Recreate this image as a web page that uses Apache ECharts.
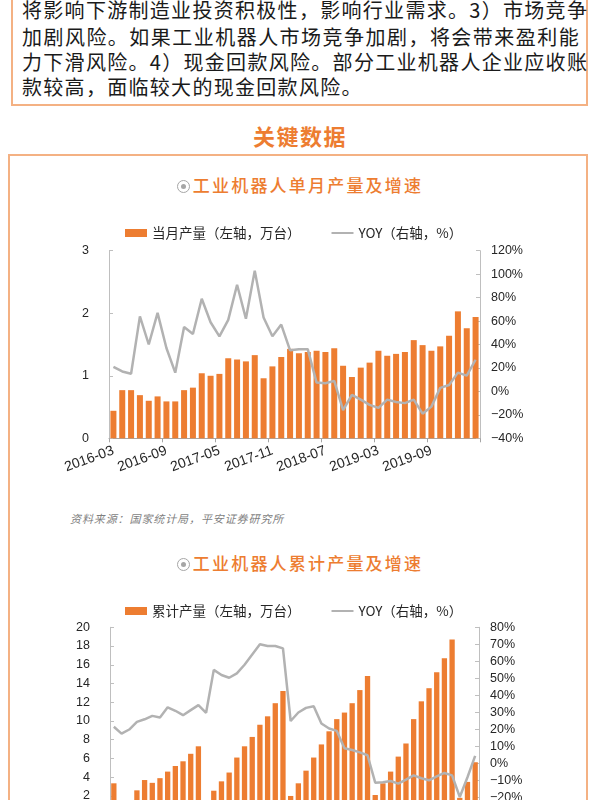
<!DOCTYPE html>
<html>
<head>
<meta charset="utf-8">
<script src="https://cdn.jsdelivr.net/npm/echarts@6/dist/echarts.min.js"></script>
<style>
html,body{margin:0;padding:0;width:600px;height:800px;overflow:hidden;background:#fff;}
body{position:relative;font-family:"Noto Sans CJK SC","Noto Sans",sans-serif;}
.abs{position:absolute;}
.tline{position:absolute;left:22px;width:558px;font-size:20px;line-height:25px;color:#1a1a1a;letter-spacing:1.3px;white-space:nowrap;}
.just{text-align:justify;text-align-last:justify;}
.ctitle{position:absolute;left:0;width:600px;text-align:center;font-size:17px;line-height:22px;color:#ED7D31;font-weight:500;letter-spacing:2.2px;}
.ico{display:inline-block;width:11px;height:11px;border:1.5px solid #A6A6A6;border-radius:50%;position:relative;vertical-align:-1px;margin-right:3px;}
.ico:after{content:"";position:absolute;left:3px;top:3px;width:5px;height:5px;border-radius:50%;background:#A6A6A6;}
</style>
</head>
<body>
<div class="abs" style="left:11px;top:-20px;width:573px;height:122px;border:2px solid #F4B183;"></div>
<div class="tline just" style="top:-3px;">将影响下游制造业投资积极性，影响行业需求。3）市场竞争</div>
<div class="tline just" style="top:24px;">加剧风险。如果工业机器人市场竞争加剧，将会带来盈利能</div>
<div class="tline just" style="top:49px;">力下滑风险。4）现金回款风险。部分工业机器人企业应收账</div>
<div class="tline" style="top:74px;">款较高，面临较大的现金回款风险。</div>

<div class="abs" style="left:0;top:121px;width:600px;text-align:center;font-size:22px;line-height:28px;font-weight:bold;color:#ED7D31;letter-spacing:1.5px;">关键数据</div>

<div class="abs" style="left:8px;top:154px;width:576px;height:800px;border:2px solid #F4B183;"></div>

<div class="ctitle" style="top:174px;"><span class="ico"></span>工业机器人单月产量及增速</div>
<div id="c1" class="abs" style="left:0;top:200px;width:600px;height:300px;"></div>
<div class="abs" style="left:70px;top:510px;font-size:11px;line-height:16px;color:#7F7F7F;font-style:italic;letter-spacing:0.9px;">资料来源：国家统计局，平安证券研究所</div>

<div class="ctitle" style="top:552px;"><span class="ico"></span>工业机器人累计产量及增速</div>
<div id="c2" class="abs" style="left:0;top:580px;width:600px;height:320px;"></div>

<script>
// ---- Chart 1 data: monthly output (万台) and YoY (%) ----
const monthCats = ['2016-03','2016-04','2016-05','2016-06','2016-07','2016-08','2016-09','2016-10','2016-11','2016-12',
  '2017-03','2017-04','2017-05','2017-06','2017-07','2017-08','2017-09','2017-10','2017-11','2017-12',
  '2018-03','2018-04','2018-05','2018-06','2018-07','2018-08','2018-09','2018-10','2018-11','2018-12',
  '2019-03','2019-04','2019-05','2019-06','2019-07','2019-08','2019-09','2019-10','2019-11','2019-12',
  '2020-03','2020-04'];
const monthlyOutput = [0.44,0.77,0.77,0.69,0.60,0.67,0.59,0.59,0.77,0.81,
  1.04,1.00,1.03,1.28,1.26,1.23,1.33,0.96,1.15,1.30,
  1.43,1.36,1.38,1.40,1.38,1.44,1.16,0.98,1.13,1.21,
  1.40,1.32,1.35,1.38,1.57,1.49,1.40,1.47,1.64,2.03,
  1.76,1.94];
const monthlyYoy = [21,17,15,64,40,67,37,16,55,49,
  79,59,47,61,91,62,103,63,47,57,
  35,36,36,7.5,7,9,-16,-3,-7,-11.5,
  -14,-7,-9,-10,-7,-19,-13,3,5.5,16,
  13.5,27];
const monthlyBarName = '当月产量（左轴，万台）';
const yoyName = 'YOY（右轴，%）';

// ---- Chart 2 data: cumulative output (万台) and YoY (%) ----
const cumCats = ['2015-12','2016-02','2016-03','2016-04','2016-05','2016-06','2016-07','2016-08','2016-09','2016-10','2016-11','2016-12',
  '2017-02','2017-03','2017-04','2017-05','2017-06','2017-07','2017-08','2017-09','2017-10','2017-11','2017-12',
  '2018-02','2018-03','2018-04','2018-05','2018-06','2018-07','2018-08','2018-09','2018-10','2018-11','2018-12',
  '2019-02','2019-03','2019-04','2019-05','2019-06','2019-07','2019-08','2019-09','2019-10','2019-11','2019-12',
  '2020-02','2020-03','2020-04'];
const cumOutput = [3.35,0.9,1.4,2.6,3.7,3.4,3.9,4.6,5.2,5.7,6.5,7.3,
  1.5,2.56,3.56,4.5,6.1,7.3,8.3,9.6,10.5,11.9,13.2,
  2.0,3.35,4.7,6.1,7.5,8.9,10.2,10.9,11.9,13.3,14.8,
  2.1,3.35,4.6,6.2,7.6,10.2,12.1,13.5,15.2,16.7,18.7,
  1.8,3.5,5.6];
const cumYoy = [21.6,17.6,20,24.5,26,28,27,33,31,28.4,31.4,34.3,
  29.8,55,52,50.4,53,58,64,70,69,69,67.6,
  25,30,32.7,33.7,23.5,20.6,19.2,9,8,6.6,4.9,
  -11.2,-11,-10.2,-11.8,-9.4,-6.9,-8.6,-9.8,-7.5,-5.5,-6.9,
  -19.6,-8,4.5];
const cumBarName = '累计产量（左轴，万台）';

const ORANGE = '#ED7D31', GRAY = '#B2B2B2', AX = '#BFBFBF', TXT = '#262626';
const pct = v => (v < 0 ? '−' + (-v) : v) + '%';

function build(cats, bars, yoy, barName, cfg) {
  return {
    animation: false,
    legend: {
      left: 125, top: cfg.legendTop, padding: 0, itemWidth: 22, itemHeight: 8, itemGap: 30,
      textStyle: {fontSize: 13.5, lineHeight: 18, color: TXT, fontFamily: 'Noto Sans CJK SC'},
      data: [
        {name: barName, icon: 'rect'},
        {name: yoyName, itemStyle: {color: 'rgba(0,0,0,0)', borderColor: 'rgba(0,0,0,0)', borderWidth: 0, opacity: 0}}
      ]
    },
    grid: {left: cfg.left, right: cfg.right, top: cfg.top, height: cfg.height, containLabel: false},
    xAxis: {
      type: 'category', data: cats, boundaryGap: true,
      axisLine: {show: true, lineStyle: {color: '#A6A6A6', width: 1}},
      axisTick: {show: true, interval: 5, length: 4, lineStyle: {color: '#A6A6A6'}},
      axisLabel: {interval: 5, rotate: 20, margin: 12, fontSize: 14, color: TXT, fontFamily: 'Liberation Sans'},
      splitLine: {show: false}
    },
    yAxis: [{
      type: 'value', min: cfg.lmin, max: cfg.lmax, interval: cfg.lint,
      splitLine: {show: false},
      axisLine: {show: true, lineStyle: {color: AX}},
      axisTick: {show: true, inside: true, length: 4, lineStyle: {color: AX}},
      axisLabel: {margin: 20, fontSize: 12.5, color: TXT, fontFamily: 'Liberation Sans'}
    }, {
      type: 'value', position: 'right', min: cfg.rmin, max: cfg.rmax, interval: cfg.rint,
      splitLine: {show: false},
      axisLine: {show: true, lineStyle: {color: AX}},
      axisTick: {show: true, inside: true, length: 4, lineStyle: {color: AX}},
      axisLabel: {margin: 11, fontSize: 12.5, color: TXT, fontFamily: 'Liberation Sans', formatter: pct}
    }],
    series: [{
      name: barName, type: 'bar', data: bars, barCategoryGap: cfg.gap,
      itemStyle: {color: ORANGE}
    }, {
      name: yoyName, type: 'line', yAxisIndex: 1, data: yoy, symbol: 'none',
      lineStyle: {color: GRAY, width: 2.5}, itemStyle: {color: GRAY}
    }]
  };
}

const c1 = echarts.init(document.getElementById('c1'), null, {renderer: 'canvas'});
c1.setOption(build(monthCats, monthlyOutput, monthlyYoy, monthlyBarName,
  {legendTop: 24, left: 109, right: 120, top: 50.7, height: 187.6, lmin: 0, lmax: 3, lint: 1, rmin: -40, rmax: 120, rint: 20, gap: '32%'}));

const c2 = echarts.init(document.getElementById('c2'), null, {renderer: 'canvas'});
c2.setOption(build(cumCats, cumOutput, cumYoy, cumBarName,
  {legendTop: 22, left: 110, right: 121, top: 47.3, height: 187.4, lmin: 0, lmax: 20, lint: 2, rmin: -30, rmax: 80, rint: 10, gap: '31%'}));
</script>
</body>
</html>
